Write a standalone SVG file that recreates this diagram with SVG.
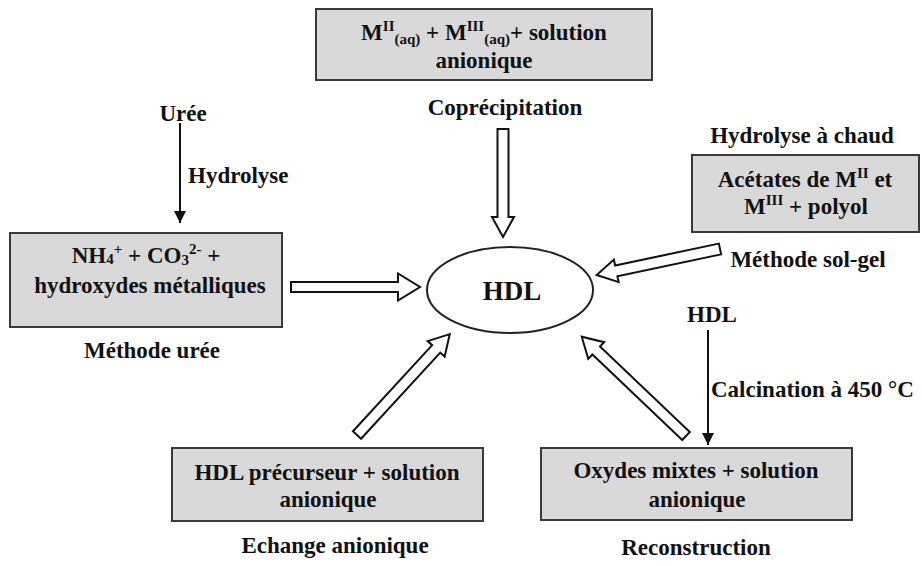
<svg xmlns="http://www.w3.org/2000/svg" width="922" height="566" viewBox="0 0 922 566">
<defs>
<marker id="ah" markerWidth="12" markerHeight="12" refX="12" refY="6" orient="auto" markerUnits="userSpaceOnUse">
<path d="M0,0 L12,6 L0,12 Z" fill="#111"/>
</marker>
<style>
text{font-family:"Liberation Serif","Times New Roman",serif;font-weight:bold;fill:#111;font-size:23px;text-anchor:middle}
.box{fill:#d9d9d9;stroke:#3a3a3a;stroke-width:2}
.blk{fill:#fff;stroke:#111;stroke-width:2;stroke-linejoin:miter}
.thin{stroke:#111;stroke-width:2;fill:none}
.sup{font-size:15px}
</style>
</defs>
<rect width="922" height="566" fill="#fff"/>

<g id="node-hdl">
<ellipse cx="510" cy="290" rx="83" ry="43" fill="#fff" stroke="#222" stroke-width="2"/>
<text x="512" y="300" style="font-size:27px">HDL</text>
</g>

<g id="node-coprecip">
<rect class="box" x="316" y="9" width="336" height="71"/>
<text x="484" y="40">M<tspan class="sup" dy="-9">II</tspan><tspan class="sup" dy="13">(aq)</tspan><tspan dy="-4"> + M</tspan><tspan class="sup" dy="-9">III</tspan><tspan class="sup" dy="13">(aq)</tspan><tspan dy="-4">+ solution</tspan></text>
<text x="484" y="68">anionique</text>
<text x="505" y="115">Coprécipitation</text>
</g>

<g id="node-uree">
<text x="183" y="121">Urée</text>
<text x="188" y="183" style="text-anchor:start">Hydrolyse</text>
<rect class="box" x="10" y="233" width="272" height="94"/>
<text x="146" y="263">NH<tspan class="sup" dy="1">4</tspan><tspan class="sup" dy="-10">+</tspan><tspan dy="9"> + CO</tspan><tspan class="sup" dy="2">3</tspan><tspan class="sup" dy="-11">2-</tspan><tspan dy="9"> +</tspan></text>
<text x="150" y="293">hydroxydes métalliques</text>
<text x="152" y="358">Méthode urée</text>
</g>

<g id="node-solgel">
<text x="802" y="143">Hydrolyse à chaud</text>
<rect class="box" x="692" y="155" width="227" height="77"/>
<text x="805" y="187">Acétates de M<tspan class="sup" dy="-9">II</tspan><tspan dy="9"> et</tspan></text>
<text x="806" y="214">M<tspan class="sup" dy="-9">III</tspan><tspan dy="9"> + polyol</tspan></text>
<text x="808" y="267">Méthode sol-gel</text>
</g>

<g id="node-echange">
<rect class="box" x="172" y="448" width="311" height="73"/>
<text x="327" y="480">HDL précurseur + solution</text>
<text x="328" y="507">anionique</text>
<text x="335" y="553">Echange anionique</text>
</g>

<g id="node-reconstruction">
<text x="712" y="322">HDL</text>
<text x="711" y="397" style="text-anchor:start">Calcination à 450 °C</text>
<rect class="box" x="541" y="448" width="311" height="72"/>
<text x="696" y="478">Oxydes mixtes + solution</text>
<text x="697" y="507">anionique</text>
<text x="696" y="555">Reconstruction</text>
</g>

<g id="connectors">
<line class="thin" x1="180" y1="123" x2="180" y2="223" marker-end="url(#ah)"/>
<line class="thin" x1="708" y1="330" x2="708" y2="445" marker-end="url(#ah)"/>
<path class="blk" transform="translate(291,287)" d="M0,-5 L107,-5 L107,-13.5 L129,0 L107,13.5 L107,5 L0,5 Z"/>
<path class="blk" transform="translate(503,129) rotate(90)" d="M0,-5.5 L88,-5.5 L88,-11 L108,0 L88,11 L88,5.5 L0,5.5 Z"/>
<path class="blk" transform="translate(720,249) rotate(168.1)" d="M0,-5.5 L106,-5.5 L106,-11.5 L126,0 L106,11.5 L106,5.5 L0,5.5 Z"/>
<path class="blk" transform="translate(357,435) rotate(-47.4)" d="M0,-5.5 L117,-5.5 L117,-11.5 L137,0 L117,11.5 L117,5.5 L0,5.5 Z"/>
<path class="blk" transform="translate(686,436) rotate(223.6)" d="M0,-5.5 L124,-5.5 L124,-11.5 L144,0 L124,11.5 L124,5.5 L0,5.5 Z"/>
</g>
</svg>
